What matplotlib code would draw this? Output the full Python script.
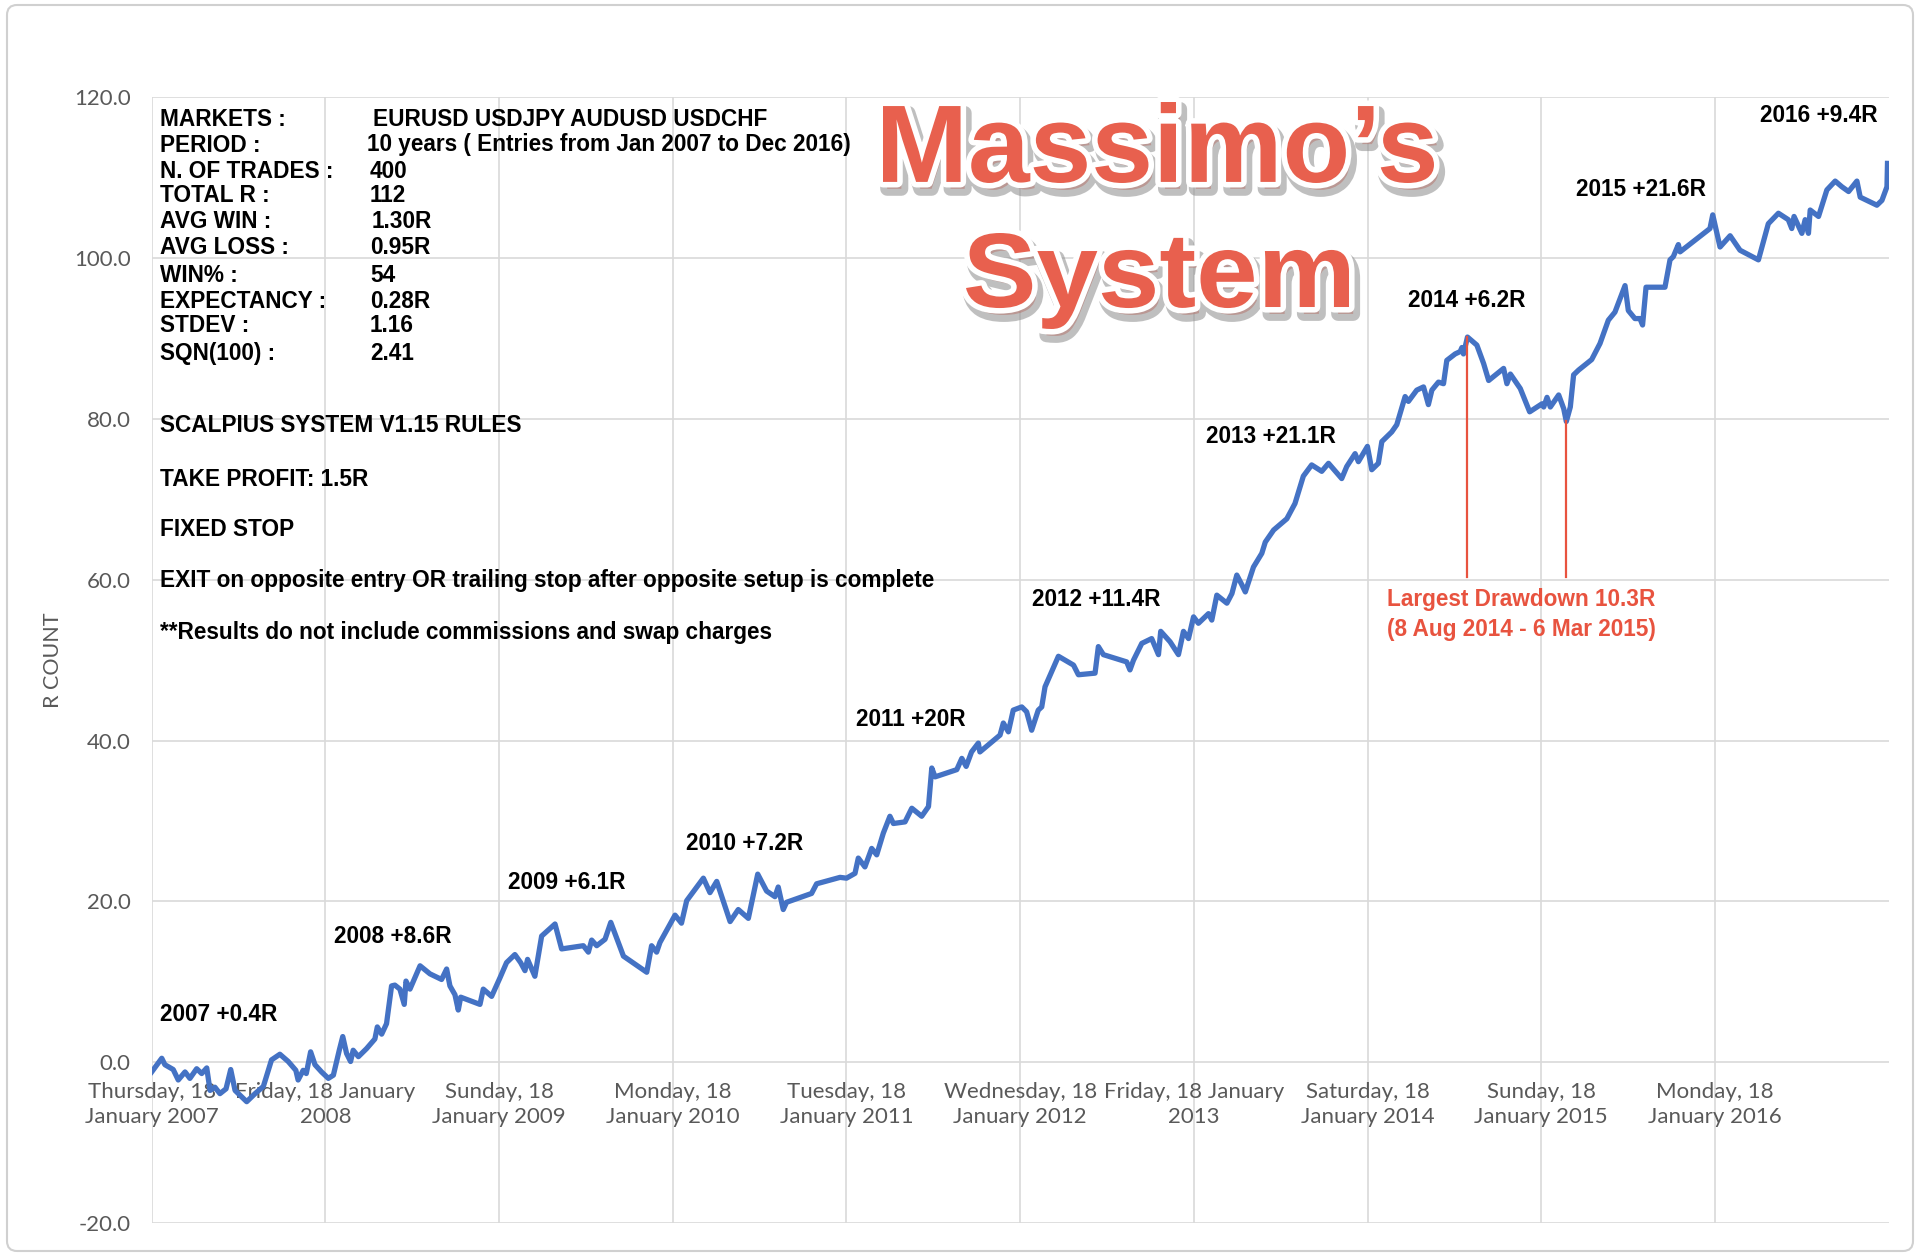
import datetime as dt
import numpy as np
import matplotlib
matplotlib.use('Agg')
import matplotlib.pyplot as plt
import matplotlib.dates as mdates
import matplotlib.patheffects as pe
from matplotlib.patches import FancyBboxPatch, PathPatch
from matplotlib.transforms import IdentityTransform, Affine2D
from matplotlib.textpath import TextPath
from matplotlib.font_manager import FontProperties

# ---- data ----
start_date = dt.datetime(2007, 1, 18)

# years since first entry (18 Jan 2007), cumulative R
t_years = [
    0.000, 0.058, 0.076, 0.124, 0.153, 0.192, 0.220, 0.259, 0.288, 0.317,
    0.336, 0.364, 0.393, 0.428, 0.455, 0.480, 0.547, 0.595, 0.643, 0.690,
    0.738, 0.786, 0.830, 0.843, 0.872, 0.890, 0.915, 0.940, 0.978, 1.017,
    1.046, 1.080, 1.100, 1.122, 1.145, 1.160, 1.190, 1.237, 1.285, 1.299,
    1.324, 1.352, 1.381, 1.400, 1.429, 1.454, 1.464, 1.487, 1.545, 1.602,
    1.669, 1.698, 1.717, 1.746, 1.765, 1.779, 1.890, 1.909, 1.957, 2.005,
    2.043, 2.091, 2.124, 2.149, 2.164, 2.206, 2.245, 2.322, 2.360, 2.485,
    2.514, 2.533, 2.562, 2.610, 2.643, 2.716, 2.850, 2.878, 2.907, 2.926,
    3.013, 3.050, 3.080, 3.118, 3.176, 3.214, 3.253, 3.330, 3.377, 3.435,
    3.489, 3.540, 3.588, 3.607, 3.636, 3.655, 3.799, 3.828, 3.963, 4.000,
    4.049, 4.068, 4.106, 4.145, 4.174, 4.212, 4.250, 4.270, 4.337, 4.376,
    4.433, 4.472, 4.491, 4.510, 4.635, 4.664, 4.689, 4.720, 4.759, 4.768,
    4.884, 4.903, 4.932, 4.960, 5.009, 5.037, 5.066, 5.104, 5.124, 5.143,
    5.220, 5.307, 5.335, 5.431, 5.450, 5.479, 5.613, 5.632, 5.652, 5.700,
    5.757, 5.796, 5.809, 5.863, 5.911, 5.940, 5.969, 5.998, 6.026, 6.084,
    6.103, 6.132, 6.190, 6.219, 6.247, 6.276, 6.296, 6.343, 6.391, 6.411,
    6.459, 6.535, 6.582, 6.630, 6.678, 6.736, 6.775, 6.851, 6.880, 6.928,
    6.947, 6.999, 7.024, 7.062, 7.082, 7.139, 7.168, 7.216, 7.235, 7.283,
    7.322, 7.350, 7.370, 7.408, 7.437, 7.456, 7.504, 7.533, 7.543, 7.552,
    7.575, 7.629, 7.668, 7.697, 7.783, 7.802, 7.822, 7.879, 7.933, 8.004,
    8.014, 8.033, 8.052, 8.100, 8.129, 8.144, 8.167, 8.186, 8.215, 8.290,
    8.338, 8.386, 8.424, 8.482, 8.501, 8.539, 8.568, 8.583, 8.603, 8.712,
    8.741, 8.760, 8.789, 8.799, 8.971, 8.987, 9.029, 9.087, 9.144, 9.250,
    9.307, 9.365, 9.422, 9.442, 9.455, 9.500, 9.519, 9.538, 9.548, 9.596,
    9.644, 9.692, 9.730, 9.769, 9.817, 9.836, 9.932, 9.961, 9.990, 9.993,
]
r_count = [
    -1.2, 0.5, -0.3, -0.9, -2.2, -1.2, -2.0, -0.8, -1.4, -0.7,
    -3.5, -3.1, -3.9, -3.3, -0.9, -3.5, -4.9, -3.9, -3.0, 0.3,
    1.0, 0.1, -1.0, -2.2, -1.0, -1.4, 1.3, -0.3, -1.2, -2.0,
    -1.6, 1.5, 3.2, 1.1, 0.1, 1.5, 0.7, 1.7, 2.9, 4.4,
    3.5, 4.8, 9.5, 9.6, 9.1, 7.2, 10.1, 9.1, 12.0, 11.0,
    10.3, 11.6, 9.5, 8.4, 6.5, 8.1, 7.2, 9.1, 8.2, 10.5,
    12.4, 13.4, 12.4, 11.4, 12.8, 10.7, 15.7, 17.2, 14.1, 14.5,
    13.7, 15.2, 14.5, 15.3, 17.4, 13.2, 11.2, 14.5, 13.7, 14.9,
    18.3, 17.3, 20.1, 21.2, 22.9, 21.1, 22.5, 17.5, 19.0, 17.9,
    23.4, 21.3, 20.6, 21.8, 19.0, 19.9, 21.0, 22.2, 23.0, 22.9,
    23.5, 25.4, 24.3, 26.6, 25.8, 28.5, 30.6, 29.7, 29.9, 31.6,
    30.6, 31.8, 36.6, 35.5, 36.4, 37.8, 36.8, 38.6, 39.7, 38.6,
    40.7, 42.2, 41.1, 43.8, 44.2, 43.6, 41.3, 43.8, 44.2, 46.7,
    50.5, 49.4, 48.2, 48.4, 51.7, 50.7, 49.8, 48.8, 50.0, 52.1,
    52.7, 50.7, 53.6, 52.3, 50.7, 53.6, 52.7, 55.4, 54.6, 55.8,
    55.0, 58.1, 57.1, 58.3, 60.6, 59.4, 58.5, 61.6, 63.3, 64.7,
    66.2, 67.6, 69.5, 72.9, 74.3, 73.5, 74.5, 72.6, 74.1, 75.7,
    74.7, 76.6, 73.7, 74.5, 77.2, 78.4, 79.3, 82.8, 82.2, 83.6,
    84.0, 81.8, 83.6, 84.6, 84.4, 87.3, 88.1, 88.4, 88.9, 88.1,
    90.2, 89.2, 86.9, 84.8, 86.3, 84.4, 85.6, 83.8, 80.9, 81.9,
    81.5, 82.7, 81.5, 83.0, 81.3, 79.7, 81.5, 85.5, 86.1, 87.4,
    89.4, 92.3, 93.3, 96.6, 93.5, 92.5, 92.5, 91.7, 96.4, 96.4,
    99.8, 100.2, 101.7, 100.8, 103.7, 105.4, 101.4, 102.8, 101.0, 99.8,
    104.3, 105.6, 104.8, 103.7, 105.2, 103.1, 104.8, 103.1, 106.0, 105.2,
    108.5, 109.6, 108.9, 108.3, 109.6, 107.6, 106.6, 107.2, 108.9, 111.8,
]

tick_labels = [
    'Thursday, 18\nJanuary 2007', 'Friday, 18 January\n2008', 'Sunday, 18\nJanuary 2009',
    'Monday, 18\nJanuary 2010', 'Tuesday, 18\nJanuary 2011', 'Wednesday, 18\nJanuary 2012',
    'Friday, 18 January\n2013', 'Saturday, 18\nJanuary 2014', 'Sunday, 18\nJanuary 2015',
    'Monday, 18\nJanuary 2016',
]

year_labels = ['2007 +0.4R', '2008 +8.6R', '2009 +6.1R', '2010 +7.2R', '2011 +20R',
               '2012 +11.4R', '2013 +21.1R', '2014 +6.2R', '2015 +21.6R', '2016 +9.4R']

stat_names = ['MARKETS :', 'PERIOD :', 'N. OF TRADES :', 'TOTAL R :', 'AVG WIN :',
              'AVG LOSS :', 'WIN% :', 'EXPECTANCY :', 'STDEV :', 'SQN(100) :']
stat_values = ['EURUSD USDJPY AUDUSD USDCHF', '10 years ( Entries from Jan 2007 to Dec 2016)',
               '400', '112', '1.30R', '0.95R', '54', '0.28R', '1.16', '2.41']
rule_lines = ['SCALPIUS SYSTEM V1.15 RULES', 'TAKE PROFIT: 1.5R', 'FIXED STOP',
              'EXIT on opposite entry OR trailing stop after opposite setup is complete',
              '**Results do not include commissions and swap charges']

dd_peak = (7.575, 90.2)     # 8 Aug 2014
dd_trough = (8.144, 79.7)   # 6 Mar 2015
dd_label = 'Largest Drawdown 10.3R\n(8 Aug 2014 - 6 Mar 2015)'

title_words = ['Massimo\u2019s', 'System']

# ---- layout (positions only) ----
W, H = 1920, 1256
year_label_pos = [(0.048, 5.9), (1.05, 15.6), (2.05, 22.4), (3.076, 27.2), (4.055, 42.6),
                  (5.068, 57.5), (6.07, 77.8), (7.233, 94.7), (8.2, 108.5), (9.26, 117.8)]
stat_rows_px = [119, 145, 171, 196, 222, 248, 275, 301, 326, 353]
stat_value_x = [373, 367, 370, 370, 372, 370, 370, 370, 370, 370]
rule_rows_px = [426, 479, 529, 581, 632]
# glyph boxes for the title words: x0, x1, top, bottom (pixels from top-left)
title_boxes = [(883, 1434, 102, 183), (966, 1349, 233, 329)]

BLUE = '#4472C4'
RED = '#E8533F'
GRAY = '#595959'
TITLE_RED = '#E8604E'
BOLD = ['Liberation Sans', 'DejaVu Sans']
TICKF = ['Lato', 'DejaVu Sans']
TXT = 16.3


def to_date(t):
    return mdates.date2num(start_date) + np.asarray(t) * 365.25


def px_text(fig, x, y, s, **kw):
    return fig.text(x / W, 1 - y / H, s, **kw)


def fitted_word(fig, s, box, effects):
    x0, x1, top, bot = box
    tp = TextPath((0, 0), s, size=100, prop=FontProperties(family=BOLD, weight='bold'))
    ext = tp.get_extents()
    tr = (Affine2D().translate(-ext.x0, -ext.y0)
          .scale((x1 - x0) / ext.width, (bot - top) / ext.height)
          .translate(x0, H - bot))
    patch = PathPatch(tr.transform_path(tp), transform=IdentityTransform(),
                      fc=TITLE_RED, ec='none', path_effects=effects, zorder=5)
    fig.add_artist(patch)


fig = plt.figure(figsize=(W / 100, H / 100), dpi=100)
fig.patch.set_facecolor('white')

ax = fig.add_axes([0.079, 0.0262, 0.9047, 0.8962])
ax.plot(to_date(t_years), r_count, color=BLUE, lw=3.8, solid_joinstyle='round', zorder=3)

ax.set_xlim(to_date(0), to_date(10))
ax.set_ylim(-20, 120)
ax.set_yticks(np.arange(-20, 121, 20))
ax.set_yticklabels([f'{v:.1f}' for v in np.arange(-20, 121, 20)])
ax.set_xticks(to_date(np.arange(10)))
ax.set_xticklabels(tick_labels)
ax.grid(True, color='#D9D9D9', lw=1.2)
ax.set_axisbelow(True)
for s in ['top', 'right', 'left']:
    ax.spines[s].set_visible(False)
ax.spines['bottom'].set_position(('data', 0))
ax.spines['bottom'].set_color('none')
ax.tick_params(axis='both', length=0, colors=GRAY)
ax.tick_params(axis='x', pad=14)
ax.tick_params(axis='y', pad=15)
for lab in ax.get_xticklabels() + ax.get_yticklabels():
    lab.set_family(TICKF)
    lab.set_fontsize(16)
for lab in ax.get_xticklabels():
    lab.set_linespacing(1.35)

px_text(fig, 53, 660, 'R COUNT', rotation=90, ha='center', va='center',
        color=GRAY, fontsize=15.5, family=TICKF)

# year annotations
for s, (tx, ty) in zip(year_labels, year_label_pos):
    ax.text(to_date(tx), ty, s, ha='left', va='center', fontsize=TXT,
            fontweight='bold', family=BOLD, color='black', zorder=4)

# drawdown markers
for tx, ty in (dd_peak, dd_trough):
    ax.plot([to_date(tx)] * 2, [60.4, ty], color=RED, lw=1.6, zorder=4)
ax.text(to_date(7.11), 55.7, dd_label, ha='left', va='center', fontsize=TXT,
        fontweight='bold', family=BOLD, color=RED, linespacing=1.4, zorder=4)

# stats block
for name, val, y, vx in zip(stat_names, stat_values, stat_rows_px, stat_value_x):
    px_text(fig, 160, y, name, ha='left', va='center', fontsize=TXT,
            fontweight='bold', family=BOLD)
    px_text(fig, vx, y, val, ha='left', va='center', fontsize=TXT,
            fontweight='bold', family=BOLD)
for s, y in zip(rule_lines, rule_rows_px):
    px_text(fig, 160, y, s, ha='left', va='center', fontsize=TXT,
            fontweight='bold', family=BOLD)

# title, with white outline and soft grey shadow
title_fx = [pe.Stroke(offset=(3, -5), linewidth=10, foreground='#8c8c8c', alpha=0.55,
                      joinstyle='round'),
            pe.Stroke(linewidth=8, foreground='white', joinstyle='round'), pe.Normal()]
for word, box in zip(title_words, title_boxes):
    fitted_word(fig, word, box, title_fx)

# outer chart border
border = FancyBboxPatch((7, 5), W - 14, H - 10, boxstyle='round,pad=0,rounding_size=10',
                        transform=IdentityTransform(), fc='none', ec='#D0D0D0', lw=1.5)
fig.add_artist(border)

fig.savefig('out.png', dpi=100, facecolor='white')
